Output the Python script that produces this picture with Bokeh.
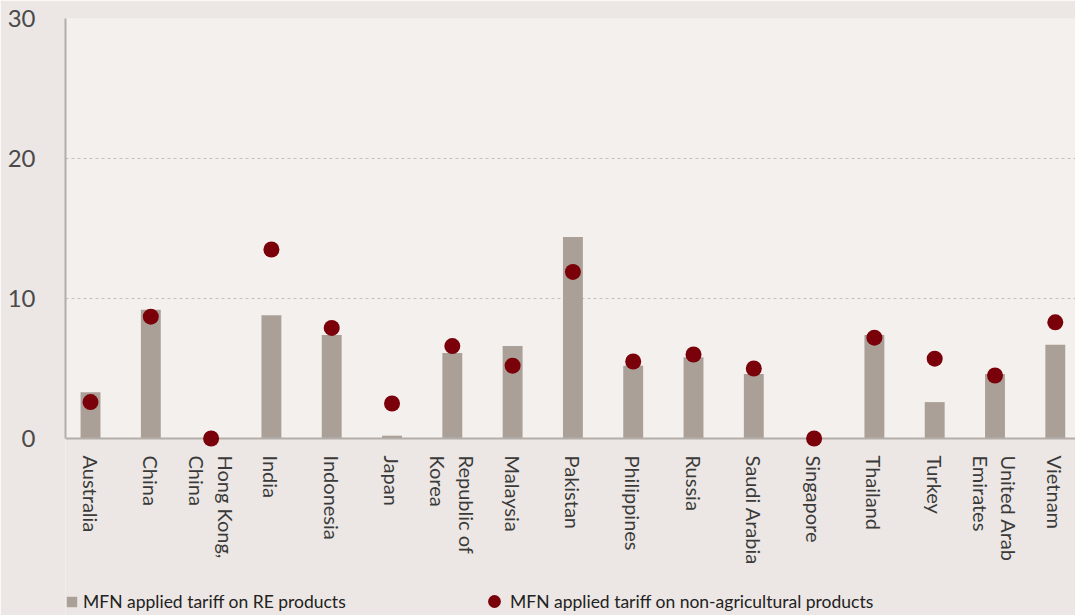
import math
from bokeh.plotting import figure
from bokeh.core.properties import value
from bokeh.models import (ColumnDataSource, FixedTicker, Legend, LegendItem, Range1d,
                          BoxAnnotation, Span)
from bokeh.embed import file_html
from bokeh.resources import INLINE

countries = ["Australia", "China", "Hong Kong,\nChina", "India", "Indonesia", "Japan",
             "Republic of\nKorea", "Malaysia", "Pakistan", "Philippines", "Russia",
             "Saudi Arabia", "Singapore", "Thailand", "Turkey", "United Arab\nEmirates", "Vietnam"]
re_tariff = [3.3, 9.2, 0.0, 8.8, 7.4, 0.2, 6.1, 6.6, 14.4, 5.2, 5.8, 4.6, 0.0, 7.4, 2.6, 4.6, 6.7]
nonag_tariff = [2.6, 8.7, 0.0, 13.5, 7.9, 2.5, 6.6, 5.2, 11.9, 5.5, 6.0, 5.0, 0.0, 7.2, 5.7, 4.5, 8.3]
y_ticks = [0, 10, 20, 30]
series_names = ["MFN applied tariff on RE products", "MFN applied tariff on non-agricultural products"]

OUTER = "#ece7e4"
INNER = "#f4f0ed"
BAR = "#aaa097"
DOT = "#7a000a"
AXIS = "#b3aeaa"

Y_MAX = 30
Y_MIN = -177 / 14.0   # room below the value axis for the category labels and legend

idx = list(range(len(countries)))
src = ColumnDataSource(dict(x=idx, re=re_tariff, na=nonag_tariff, zero=[0] * len(idx), name=countries))

p = figure(width=1075, height=615, x_range=Range1d(-0.415, 16.335), y_range=Range1d(Y_MIN, Y_MAX),
           output_backend="svg", toolbar_location=None, x_axis_location=None,
           min_border_left=65, min_border_right=0, min_border_top=18, min_border_bottom=0)
p.background_fill_color = OUTER
p.border_fill_color = OUTER
p.outline_line_color = None

# plotting panel background (value range 0..30)
p.add_layout(BoxAnnotation(bottom=0, top=Y_MAX, fill_color=INNER, fill_alpha=1,
                           line_color=None, level="image"))

bars = p.vbar(x="x", top="re", width=0.33, source=src, fill_color=BAR, line_color=None)

# value axis baseline
p.add_layout(Span(location=0, dimension="width", line_color=AXIS, line_width=2))

dots = p.scatter(x="x", y="na", source=src, size=16, marker="circle", fill_color=DOT, line_color=None)
dots.level = "overlay"

# category labels
p.text(x="x", y="zero", text="name", source=src, angle=-math.pi / 2, y_offset=17,
       text_align="left", text_baseline="middle", text_font=value("Lato"),
       text_font_size="20px", text_color="#3a3a3a")

ya = p.yaxis[0]
ya.ticker = FixedTicker(ticks=y_ticks)
ya.bounds = (0, Y_MAX)
ya.major_tick_line_color = None
ya.minor_tick_line_color = None
ya.axis_line_color = AXIS
ya.axis_line_width = 2
ya.major_label_text_font = "Lato"
ya.major_label_text_font_size = "24px"
ya.major_label_text_color = "#4a4a4a"
ya.major_label_standoff = 24

p.xgrid.grid_line_color = None
p.ygrid.grid_line_color = "#c4c0bc"
p.ygrid.grid_line_dash = "3 3"
p.ygrid.grid_line_width = 1
p.ygrid.bounds = (0, Y_MAX)

common = dict(orientation="horizontal", padding=0, margin=0, spacing=0,
              border_line_color=None, background_fill_alpha=0,
              label_text_font="Lato", label_text_font_size="17.5px", label_text_color="#222222")

leg1 = Legend(items=[LegendItem(label=series_names[0], renderers=[bars])],
              location=(0, 3), glyph_width=13, glyph_height=13, label_height=13,
              label_standoff=5, **common)
leg2 = Legend(items=[LegendItem(label=series_names[1], renderers=[dots])],
              location=(413, -2), glyph_width=32, glyph_height=32, label_height=32,
              label_standoff=0, **common)
p.add_layout(leg1)
p.add_layout(leg2)

open("out.html", "w").write(file_html(p, INLINE))
